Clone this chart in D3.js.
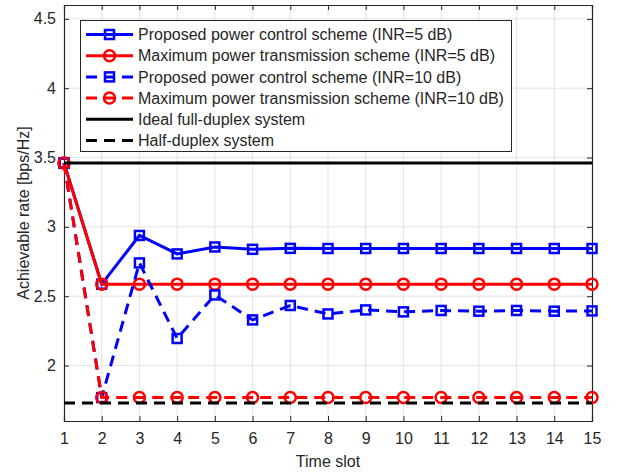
<!DOCTYPE html>
<html>
<head>
<meta charset="utf-8">
<script src="https://cdn.jsdelivr.net/npm/d3@7"></script>
<style>
  body { margin: 0; background: #fff; }
  text { font-family: "Liberation Sans", Arial, sans-serif; fill: #262626; }
</style>
</head>
<body>
<script>
// data
var timeSlots = d3.range(1, 16);
var proposed5 = [3.46, 2.587, 2.938, 2.805, 2.855, 2.838, 2.845, 2.844, 2.844, 2.844, 2.844, 2.844, 2.844, 2.844, 2.844];
var maxPower5 = [3.46, 2.587, 2.587, 2.587, 2.587, 2.587, 2.587, 2.587, 2.587, 2.587, 2.587, 2.587, 2.587, 2.587, 2.587];
var proposed10 = [3.46, 1.769, 2.74, 2.195, 2.509, 2.329, 2.433, 2.372, 2.401, 2.387, 2.397, 2.392, 2.397, 2.392, 2.394];
var maxPower10 = [3.46, 1.769, 1.769, 1.769, 1.769, 1.769, 1.769, 1.769, 1.769, 1.769, 1.769, 1.769, 1.769, 1.769, 1.769];
var idealFD = 3.46;
var halfDuplex = 1.73;
var yTicks = [2, 2.5, 3, 3.5, 4, 4.5];
var legendLabels = [
  "Proposed power control scheme (INR=5 dB)",
  "Maximum power transmission scheme (INR=5 dB)",
  "Proposed power control scheme (INR=10 dB)",
  "Maximum power transmission scheme (INR=10 dB)",
  "Ideal full-duplex system",
  "Half-duplex system"
];

var width = 622, height = 473;
var margin = {top: 5, right: 30, bottom: 52, left: 64};

var svg = d3.select("body").append("svg")
  .attr("width", width)
  .attr("height", height);

var x = d3.scaleLinear().domain([1, 15]).range([margin.left, width - margin.right]);
var y = d3.scaleLinear().domain([1.6, 4.6]).range([height - margin.bottom, margin.top]);

var axisColor = "#262626", gridColor = "#e3e3e3";
var dash = "11,7";

// grid
svg.append("g").selectAll("line").data(timeSlots.slice(1, -1)).join("line")
  .attr("x1", d => x(d)).attr("x2", d => x(d))
  .attr("y1", y.range()[0]).attr("y2", y.range()[1])
  .attr("stroke", gridColor).attr("stroke-width", 1);
svg.append("g").selectAll("line").data(yTicks).join("line")
  .attr("x1", x.range()[0]).attr("x2", x.range()[1])
  .attr("y1", d => y(d)).attr("y2", d => y(d))
  .attr("stroke", gridColor).attr("stroke-width", 1);

// axes
var xAxis = svg.append("g")
  .attr("transform", "translate(0," + y.range()[0] + ")")
  .call(d3.axisBottom(x).tickValues(timeSlots).tickSize(-5).tickPadding(12).tickFormat(d3.format("d")));
var xTop = svg.append("g")
  .attr("transform", "translate(0," + y.range()[1] + ")")
  .call(d3.axisTop(x).tickValues(timeSlots).tickSize(-5).tickFormat(""));
var yAxis = svg.append("g")
  .attr("transform", "translate(" + x.range()[0] + ",0)")
  .call(d3.axisLeft(y).tickValues(yTicks).tickSize(-5).tickPadding(8).tickFormat(d3.format("")));
var yRight = svg.append("g")
  .attr("transform", "translate(" + x.range()[1] + ",0)")
  .call(d3.axisRight(y).tickValues(yTicks).tickSize(-5).tickFormat(""));

[xAxis, xTop, yAxis, yRight].forEach(function(g) {
  g.select(".domain").attr("stroke", axisColor).attr("stroke-width", 1.2);
  g.selectAll(".tick line").attr("stroke", axisColor).attr("stroke-width", 1);
  g.selectAll("text").attr("font-size", 16).attr("fill", axisColor)
    .style("font-family", "Liberation Sans, Arial, sans-serif");
});

// axis labels
svg.append("text")
  .attr("x", x(8)).attr("y", 467)
  .attr("text-anchor", "middle").attr("font-size", 16)
  .text("Time slot");
svg.append("text")
  .attr("transform", "translate(23," + y(3.1) + ") rotate(-90)")
  .attr("text-anchor", "middle").attr("font-size", 16)
  .attr("dy", "0.35em")
  .text("Achievable rate [bps/Hz]");

// series
var series = [
  {values: proposed5, color: "#0000ff", dash: null, marker: "square"},
  {values: maxPower5, color: "#ff0000", dash: null, marker: "circle"},
  {values: proposed10, color: "#0000ff", dash: dash, marker: "square"},
  {values: maxPower10, color: "#ff0000", dash: dash, marker: "circle"}
];

var line = d3.line().x((d, i) => x(timeSlots[i])).y(d => y(d));

function drawMarker(g, marker, color, cx, cy) {
  if (marker === "square") {
    g.append("rect")
      .attr("x", cx - 4.5).attr("y", cy - 4.5)
      .attr("width", 9).attr("height", 9)
      .attr("fill", "none").attr("stroke", color).attr("stroke-width", 2.5);
  } else {
    g.append("circle")
      .attr("cx", cx).attr("cy", cy).attr("r", 5.5)
      .attr("fill", "none").attr("stroke", color).attr("stroke-width", 2.5);
  }
}

series.forEach(function(s) {
  var g = svg.append("g");
  g.append("path")
    .attr("d", line(s.values))
    .attr("fill", "none")
    .attr("stroke", s.color)
    .attr("stroke-width", 3)
    .attr("stroke-dasharray", s.dash);
  s.values.forEach(function(v, i) {
    drawMarker(g, s.marker, s.color, x(timeSlots[i]), y(v));
  });
});

// reference lines
svg.append("line")
  .attr("x1", x.range()[0]).attr("x2", x.range()[1])
  .attr("y1", y(idealFD)).attr("y2", y(idealFD))
  .attr("stroke", "#000").attr("stroke-width", 3);
svg.append("line")
  .attr("x1", x.range()[0]).attr("x2", x.range()[1])
  .attr("y1", y(halfDuplex)).attr("y2", y(halfDuplex))
  .attr("stroke", "#000").attr("stroke-width", 3)
  .attr("stroke-dasharray", dash);

// legend
var legendItems = series.concat([
  {color: "#000", dash: null, marker: null},
  {color: "#000", dash: dash, marker: null}
]);
var legend = svg.append("g");
legend.append("rect")
  .attr("x", 80.5).attr("y", 20.5)
  .attr("width", 431).attr("height", 131)
  .attr("fill", "#fff").attr("stroke", axisColor).attr("stroke-width", 1);

legendItems.forEach(function(s, i) {
  var ly = 34.5 + i * 21.2;
  var row = legend.append("g");
  row.append("line")
    .attr("x1", 86).attr("x2", 133)
    .attr("y1", ly).attr("y2", ly)
    .attr("stroke", s.color).attr("stroke-width", 3)
    .attr("stroke-dasharray", s.dash);
  if (s.marker) drawMarker(row, s.marker, s.color, 109.5, ly);
  row.append("text")
    .attr("x", 138).attr("y", ly).attr("dy", "0.35em")
    .attr("font-size", 16)
    .text(legendLabels[i]);
});
</script>
</body>
</html>
